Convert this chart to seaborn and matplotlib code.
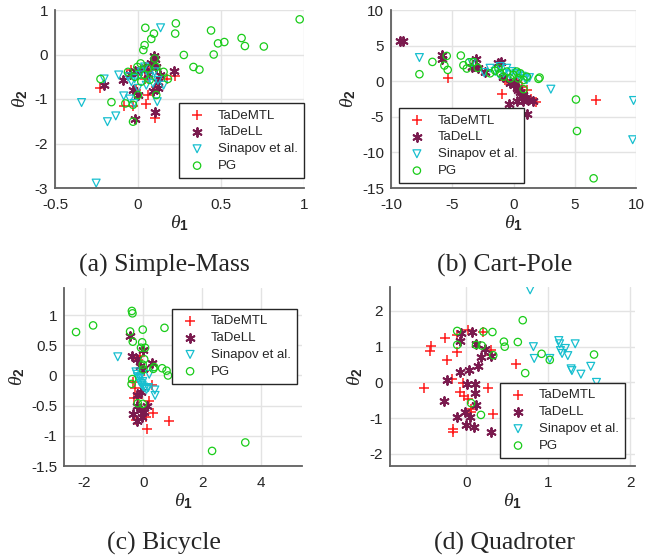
import numpy as np
import pandas as pd
import matplotlib
matplotlib.use("Agg")
import matplotlib.pyplot as plt
import seaborn as sns

# ---- data (theta_1, theta_2) ----
methods = ["TaDeMTL", "TaDeLL", "Sinapov et al.", "PG"]

mass_tademtl = [(-0.226, -0.76), (-0.084, -1.16), (0.05, -1.11), (0.104, -1.43), (0.06, -0.90),
                (0.22, -0.49), (0.174, -0.54), (-0.04, -0.35), (-0.03, -1.16), (-0.01, -0.80),
                (0.11, -0.73), (0.02, -0.38), (0.06, -0.53), (0.08, -0.3), (0.04, -0.56), (0.0, -0.45)]
mass_tadell = [(-0.206, -0.69), (-0.016, -1.45), (0.104, -1.29), (0.218, -0.37), (0.094, -0.04),
               (0.104, -0.11), (-0.03, -0.80), (0.0, -0.90), (0.09, -0.81), (0.12, -0.61),
               (0.13, -0.46), (-0.09, -0.57), (-0.05, -0.43), (0.02, -0.35), (0.06, -0.43),
               (0.08, -0.20), (0.11, -0.28), (0.12, -0.75), (0.04, -0.28), (-0.02, -0.38)]
mass_sinapov = [(0.136, 0.60), (-0.34, -1.08), (-0.252, -2.89), (-0.184, -1.51), (-0.134, -1.38),
                (-0.086, -0.93), (-0.05, -1.0), (-0.024, -1.10), (0.116, -1.06), (0.154, -0.69),
                (-0.116, -0.46), (-0.204, -0.55), (-0.04, -0.61), (0.0, -0.76), (-0.02, -0.54),
                (0.04, -0.28), (0.07, -0.5), (0.1, -0.39), (0.02, -0.39), (-0.06, -0.5),
                (0.09, -0.65), (0.05, -0.69), (0.12, -0.58), (0.01, -0.46)]
mass_pg = [(0.044, 0.60), (0.228, 0.70), (0.224, 0.47), (0.096, 0.47), (0.08, 0.35), (0.04, 0.21),
           (0.032, 0.10), (0.44, 0.54), (0.624, 0.37), (0.482, 0.25), (0.52, 0.28), (0.644, 0.19),
           (0.758, 0.18), (0.974, 0.79), (0.276, -0.01), (0.456, 0.0), (0.334, -0.28), (0.37, -0.34),
           (-0.226, -0.55), (-0.16, -1.07), (-0.076, -1.10), (-0.03, -1.13), (-0.03, -1.51),
           (0.0, -0.91), (0.11, -0.91), (0.154, -0.39), (0.18, -0.55), (0.016, -0.2),
           (-0.06, -0.39), (-0.004, -0.28), (0.04, -0.46), (0.06, -0.31), (0.1, -0.09),
           (0.11, -0.28), (0.02, -0.61), (0.07, -0.57), (-0.02, -0.5)]

cart_tademtl = [(-5.31, 0.42), (-0.9, -1.82), (1.39, -2.43), (1.83, -2.9), (6.7, -2.71),
                (1.09, -1.21), (-0.55, 0.05), (0.27, -0.05), (0.68, -0.75), (-0.68, 0.19)]
cart_tadell = [(-9.3, 5.6), (-9.0, 5.7), (-5.8, 3.69), (-5.86, 3.08), (-3.41, 2.06), (-3.08, 3.08),
               (-2.32, 1.36), (-1.06, 2.66), (-1.28, 2.52), (-0.33, -3.22), (0.25, -2.85),
               (1.14, -4.58), (1.58, -2.76), (0.98, -2.38), (0.76, -1.92), (0.54, -1.45),
               (0.27, -0.98), (0.0, -0.51), (-0.27, -0.28), (0.14, -0.05), (-0.82, 0.65),
               (0.76, -2.85), (1.17, -2.62), (-2.9, 1.9), (0.4, -1.2)]
cart_sinapov = [(-7.68, 3.32), (3.05, -1.12), (9.8, -2.71), (9.73, -8.22), (-2.4, 1.21),
                (-1.5, 1.36), (-1.91, 1.82), (-0.82, 1.12), (-0.14, 1.36), (0.41, 0.89),
                (0.95, 0.42), (1.09, 0.19), (-0.55, 1.82), (-1.09, 2.06), (-3.4, 2.6),
                (-1.2, 1.0), (-0.3, 0.9), (0.2, 1.1), (0.7, 0.7), (1.3, 0.5)]
cart_pg = [(-7.68, 0.98), (-6.62, 2.71), (-5.64, 2.2), (-5.45, 3.55), (-5.37, 1.59), (-4.3, 3.6),
           (-4.09, 2.24), (-3.81, 1.78), (-3.62, 2.66), (-2.92, 1.87), (5.10, -2.57),
           (5.18, -7.0), (6.54, -13.64), (2.04, 0.33), (2.13, 0.51), (0.82, -1.12),
           (-1.5, 1.49), (-1.09, 1.11), (-0.55, 1.35), (0.0, 0.88), (0.55, 1.11), (1.09, 0.64),
           (-0.82, 0.64), (-0.27, 0.4), (0.27, 1.35), (0.82, 0.17), (-1.91, 1.11),
           (-1.23, 1.81), (0.4, 0.4), (-3.26, 2.7)]

bike_tademtl = [(0.87, -0.75), (0.11, -0.88), (0.34, -0.62), (0.09, -0.69), (0.19, -0.42),
                (0.3, -0.16), (-0.28, -0.21), (-0.31, -0.37), (-0.19, -0.38), (-0.25, -0.73),
                (-0.13, 0.33), (-0.17, 0.25), (0.02, 0.07), (-0.34, -0.1)]
bike_tadell = [(-0.45, 0.65), (-0.39, 0.32), (-0.22, 0.28), (0.0, 0.42), (0.3, 0.2), (0.0, 0.11),
               (-0.09, -0.28), (-0.22, -0.33), (0.11, -0.51), (-0.08, -0.58), (-0.22, -0.51),
               (-0.34, -0.64), (-0.2, -0.75), (-0.06, -0.69), (0.03, -0.61), (-0.13, 0.15)]
bike_sinapov = [(-0.87, 0.31), (0.2, 0.02), (0.39, -0.24), (0.4, -0.33), (-0.22, 0.02),
                (-0.17, -0.05), (-0.13, -0.1), (-0.09, -0.13), (-0.04, -0.16), (0.0, -0.19),
                (0.06, -0.21), (0.11, -0.23), (0.17, -0.2), (-0.11, -0.03), (-0.02, -0.1),
                (-0.2, -0.02), (-0.25, 0.06)]
bike_pg = [(-2.29, 0.72), (-1.71, 0.83), (-0.39, 1.07), (-0.37, 1.03), (-0.45, 0.73),
           (-0.36, 0.56), (-0.02, 0.76), (0.72, 0.79), (-0.04, 0.55), (-0.08, 0.46),
           (0.06, 0.46), (0.03, 0.27), (-0.02, 0.18), (0.37, 0.14), (0.34, 0.11), (0.64, 0.12),
           (0.79, 0.08), (0.84, 0.0), (-0.38, -0.06), (-0.4, -0.14), (-0.19, -0.46),
           (-0.02, -0.47), (2.34, -1.25), (3.47, -1.11), (0.0, 0.1)]

quad_tademtl = [(-0.51, -0.16), (-0.43, 1.01), (-0.44, 0.89), (-0.26, 1.25), (-0.23, 0.62),
                (-0.11, 1.32), (-0.11, 0.85), (-0.17, 0.1), (-0.16, -1.31), (-0.16, -1.4),
                (-0.04, -0.02), (-0.07, -0.27), (-0.03, -0.39), (0.02, -0.46), (0.06, -0.84),
                (0.02, 1.46), (0.2, 1.42), (0.3, 0.76), (0.3, 0.9), (0.26, -0.16), (0.33, -0.89),
                (0.61, 0.52), (0.06, -0.74)]
quad_tadell = [(-0.06, 1.39), (-0.07, 1.17), (0.07, 1.42), (0.12, 1.07), (0.23, 0.94), (0.3, 0.73),
               (0.18, 0.7), (0.15, 0.45), (0.04, 0.36), (-0.08, 0.28), (-0.23, 0.08), (0.01, -0.04),
               (0.11, -0.05), (0.11, -0.3), (0.12, -0.63), (-0.27, -0.52), (-0.02, -0.84),
               (-0.11, -0.98), (0.05, -0.98), (0.0, -1.19), (0.09, -1.24), (0.3, -1.38)]
quad_sinapov = [(0.78, 2.59), (0.82, 1.0), (0.83, 0.67), (1.02, 0.67), (1.13, 1.17), (1.14, 1.08),
                (1.15, 0.89), (1.17, 0.81), (1.21, 0.95), (1.24, 0.75), (1.33, 1.08), (1.28, 0.38),
                (1.29, 0.33), (1.4, 0.23), (1.52, 0.45), (1.59, 0.0)]
quad_pg = [(-0.11, 1.44), (-0.11, 1.05), (0.06, -0.58), (0.18, -0.91), (0.12, 1.05), (0.19, 1.03),
           (0.21, 1.42), (0.32, 1.41), (0.33, 0.76), (0.46, 1.14), (0.47, 1.0), (0.63, 1.13),
           (0.69, 1.74), (0.72, 0.26), (0.92, 0.8), (1.02, 0.63), (1.56, 0.78)]

panels = [
    ("(a) Simple-Mass", [mass_tademtl, mass_tadell, mass_sinapov, mass_pg],
     (-0.5, 1), (-3, 1), [-0.5, 0, 0.5, 1], [-3, -2, -1, 0, 1]),
    ("(b) Cart-Pole", [cart_tademtl, cart_tadell, cart_sinapov, cart_pg],
     (-10, 10), (-15, 10), [-10, -5, 0, 5, 10], [-15, -10, -5, 0, 5, 10]),
    ("(c) Bicycle", [bike_tademtl, bike_tadell, bike_sinapov, bike_pg],
     (-2.7, 5.4), (-1.5, 1.45), [-2, 0, 2, 4], [-1.5, -1, -0.5, 0, 0.5, 1]),
    ("(d) Quadroter", [quad_tademtl, quad_tadell, quad_sinapov, quad_pg],
     (-0.93, 2.06), (-2.34, 2.67), [0, 1, 2], [-2, -1, 0, 1, 2]),
]

# ---- styling ----
sns.set_style("whitegrid")
plt.rcParams["font.family"] = ["Liberation Sans", "DejaVu Sans"]
plt.rcParams["mathtext.fontset"] = "custom"
plt.rcParams["mathtext.it"] = "Liberation Serif:italic"
plt.rcParams["mathtext.rm"] = "Liberation Serif"
plt.rcParams["mathtext.bf"] = "Liberation Sans:bold"

colors = ["#ff1a1a", "#7a1a4e", "#17bfcf", "#19cc19"]
markers = ["+", (6, 2, 0), "v", "o"]
sizes = [45, 40, 32, 28]

fig = plt.figure(figsize=(6.54, 5.57), dpi=100)
rects = [(55, 10, 249, 178), (391, 10, 245, 178), (64, 288, 238, 178), (390, 287, 245, 179)]
legend_pos = [("lower right", (1.0, 0.056)), ("lower left", (0.033, 0.028)),
              ("upper right", (0.979, 0.882)), ("lower right", (0.959, 0.045))]
caption_pos = [(164, 265), (505, 265), (164, 543), (505, 543)]

W, H = 654, 557
for (title, groups, xl, yl, xt, yt), (px, py, pw, ph), (loc, anchor), (cx, cy) in zip(
        panels, rects, legend_pos, caption_pos):
    ax = fig.add_axes([px / W, 1 - (py + ph) / H, pw / W, ph / H])
    for name, pts, c, m, s in zip(methods, groups, colors, markers, sizes):
        df = pd.DataFrame(pts, columns=["t1", "t2"])
        if m in ("o", "v"):
            sns.scatterplot(data=df, x="t1", y="t2", ax=ax, marker=m, s=s, facecolor="none",
                            edgecolor=c, linewidth=0.9, label=name)
        else:
            sns.scatterplot(data=df, x="t1", y="t2", ax=ax, marker=m, s=s, color=c,
                            edgecolor=c, linewidth=1.1 if m == "+" else 1.4, label=name)
    ax.set_xlim(xl)
    ax.set_ylim(yl)
    ax.set_xticks(xt)
    ax.set_yticks(yt)
    ax.set_xticklabels([f"{v:g}" for v in xt])
    ax.set_yticklabels([f"{v:g}" for v in yt])
    ax.grid(True, color="#e3e3e3", linewidth=1.0)
    ax.set_axisbelow(True)
    for side in ("top", "right"):
        ax.spines[side].set_visible(False)
    for side in ("left", "bottom"):
        ax.spines[side].set_color("#606060")
        ax.spines[side].set_linewidth(1.3)
    ax.tick_params(axis="both", direction="in", length=3, width=0.8, color="#606060",
                   labelsize=11, labelcolor="#262626")
    ax.tick_params(axis="x", pad=7)
    ax.tick_params(axis="y", pad=5)
    ax.set_xlabel(r"$\theta_\mathbf{1}$", fontsize=14, color="#262626", labelpad=1)
    ax.set_ylabel(r"$\theta_\mathbf{2}$", fontsize=14, color="#262626", labelpad=3)
    leg = ax.legend(loc=loc, bbox_to_anchor=anchor, fontsize=9.5, frameon=True, fancybox=False,
                    edgecolor="#262626", framealpha=1, borderpad=0.45, labelspacing=0.35,
                    handletextpad=0.7, handlelength=1.8, borderaxespad=0)
    leg.get_frame().set_linewidth(1.0)
    fig.text(cx / W, 1 - cy / H, title, ha="center", va="center", fontsize=18.5,
             family=["Liberation Serif", "DejaVu Serif"])

plt.savefig("out.png", dpi=100)
